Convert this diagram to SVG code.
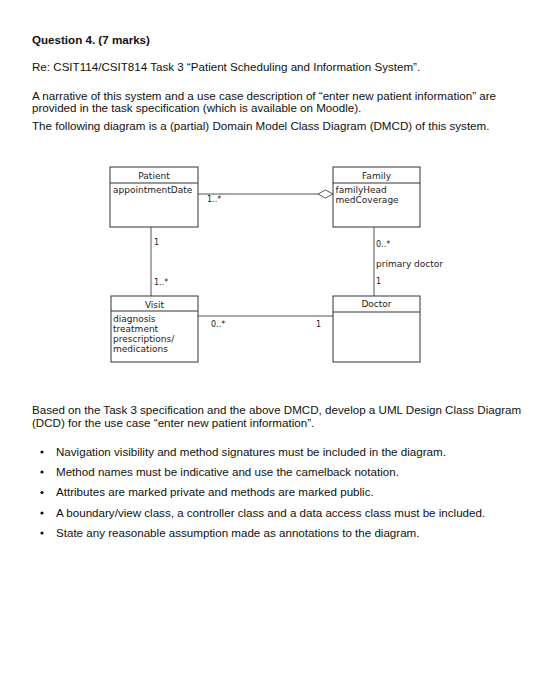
<svg xmlns="http://www.w3.org/2000/svg" width="540" height="686" viewBox="0 0 540 686">
<style>
.body{font-family:"Liberation Sans",Arial,sans-serif;font-size:11.6px;fill:#111}
.bold{font-weight:bold}
.dt{font-family:"DejaVu Sans",Verdana,sans-serif;font-size:9px;fill:#222}
.mult{font-family:"DejaVu Sans",Verdana,sans-serif;font-size:8px;fill:#222}
.box{fill:#fff;stroke:#333;stroke-width:1}
.sep{stroke:#333;stroke-width:1}
.conn{fill:none;stroke:#555;stroke-width:1}
</style>
<rect width="540" height="686" fill="#fff"/>
<g id="text-top">
<text class="body bold" x="32" y="44">Question 4. (7 marks)</text>
<text class="body" x="32" y="71">Re: CSIT114/CSIT814 Task 3 “Patient Scheduling and Information System”.</text>
<text class="body" x="32" y="99.5">A narrative of this system and a use case description of “enter new patient information” are</text>
<text class="body" x="32" y="112">provided in the task specification (which is available on Moodle).</text>
<text class="body" x="32" y="130">The following diagram is a (partial) Domain Model Class Diagram (DMCD) of this system.</text>
</g>
<g id="connectors">
<line class="conn" x1="198" y1="194" x2="318" y2="194"/>
<polygon points="333,194 325.5,190 318,194 325.5,198" fill="#fff" stroke="#555" stroke-width="1"/>
<line class="conn" x1="151" y1="227" x2="151" y2="296"/>
<line class="conn" x1="374" y1="227" x2="374" y2="296"/>
<line class="conn" x1="198" y1="316" x2="333" y2="316"/>
<text class="mult" x="207" y="202">1..*</text>
<text class="mult" x="154" y="245">1</text>
<text class="mult" x="154" y="285">1..*</text>
<text class="mult" x="376" y="247">0..*</text>
<text class="dt" x="376" y="267">primary doctor</text>
<text class="mult" x="376" y="284">1</text>
<text class="mult" x="211" y="327">0..*</text>
<text class="mult" x="316" y="327">1</text>
</g>
<g id="patient">
<rect class="box" x="110" y="167" width="88" height="60"/>
<line class="sep" x1="110" y1="183" x2="198" y2="183"/>
<text class="dt" x="154" y="179" text-anchor="middle">Patient</text>
<text class="dt" x="113" y="193">appointmentDate</text>
</g>
<g id="family">
<rect class="box" x="333" y="167" width="87" height="60"/>
<line class="sep" x1="333" y1="183" x2="420" y2="183"/>
<text class="dt" x="376.5" y="179" text-anchor="middle">Family</text>
<text class="dt" x="335.5" y="193">familyHead</text>
<text class="dt" x="335.5" y="203">medCoverage</text>
</g>
<g id="visit">
<rect class="box" x="111" y="296" width="87" height="66"/>
<line class="sep" x1="111" y1="311" x2="198" y2="311"/>
<text class="dt" x="154.5" y="307.5" text-anchor="middle">Visit</text>
<text class="dt" x="113" y="322">diagnosis</text>
<text class="dt" x="113" y="332">treatment</text>
<text class="dt" x="113" y="342">prescriptions/</text>
<text class="dt" x="113" y="352">medications</text>
</g>
<g id="doctor">
<rect class="box" x="333" y="296" width="87" height="66"/>
<line class="sep" x1="333" y1="312" x2="420" y2="312"/>
<text class="dt" x="376.5" y="307" text-anchor="middle">Doctor</text>
</g>
<g id="text-bottom">
<text class="body" x="32" y="414">Based on the Task 3 specification and the above DMCD, develop a UML Design Class Diagram</text>
<text class="body" x="32" y="427">(DCD) for the use case “enter new patient information”.</text>
<g>
<circle cx="42" cy="452" r="1.6" fill="#111"/>
<text class="body" x="56" y="455.5">Navigation visibility and method signatures must be included in the diagram.</text>
<circle cx="42" cy="472" r="1.6" fill="#111"/>
<text class="body" x="56" y="475.5">Method names must be indicative and use the camelback notation.</text>
<circle cx="42" cy="492.5" r="1.6" fill="#111"/>
<text class="body" x="56" y="496">Attributes are marked private and methods are marked public.</text>
<circle cx="42" cy="513" r="1.6" fill="#111"/>
<text class="body" x="56" y="516.5">A boundary/view class, a controller class and a data access class must be included.</text>
<circle cx="42" cy="533" r="1.6" fill="#111"/>
<text class="body" x="56" y="536.5">State any reasonable assumption made as annotations to the diagram.</text>
</g>
</g>
</svg>
